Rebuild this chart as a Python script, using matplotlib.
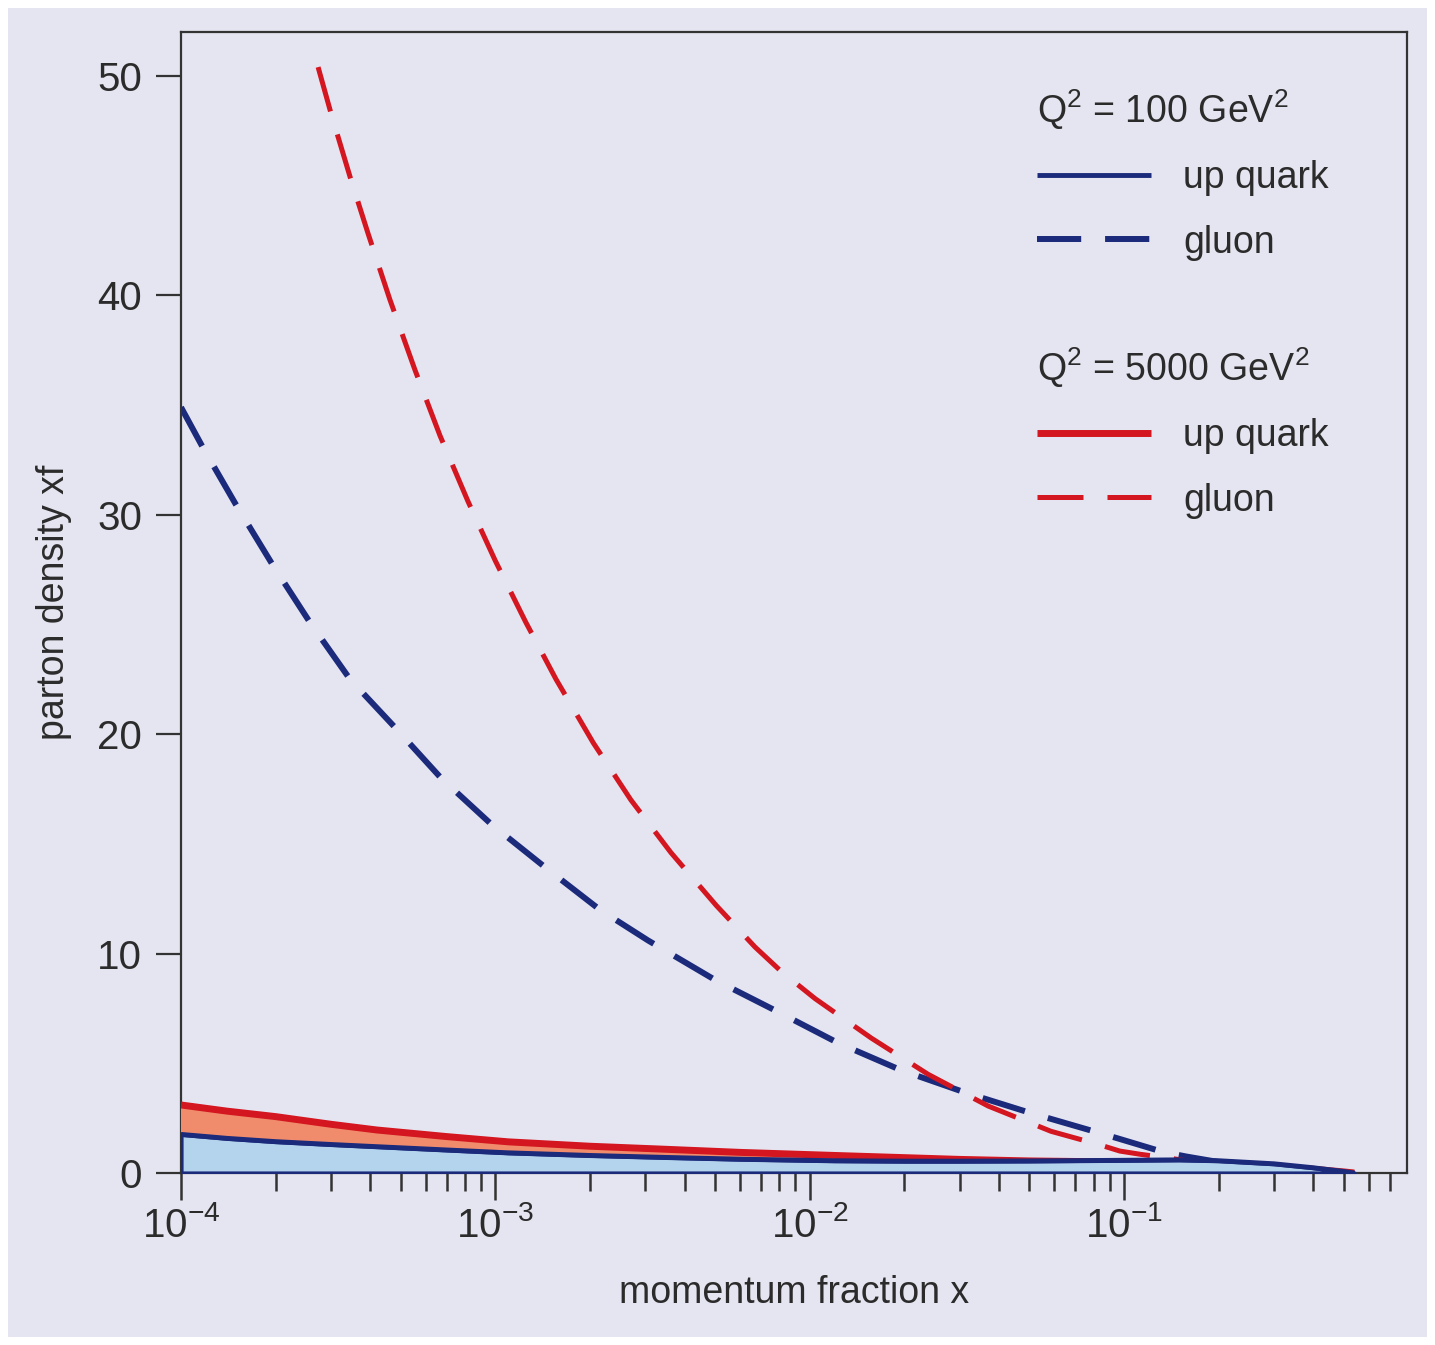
import matplotlib
matplotlib.use('Agg')
import matplotlib.pyplot as plt
from matplotlib.patches import Rectangle
from matplotlib.ticker import LogLocator, NullFormatter

# values (x = momentum fraction, y = parton density xf)
x_gluon_100 = [1e-4, 1.17e-4, 1.49e-4, 1.96e-4, 2.57e-4, 3.45e-4, 4.8e-4, 6.72e-4, 9.7e-4,
               1.45e-3, 2.15e-3, 3.06e-3, 5e-3, 7.94e-3, 1.23e-2, 1.95e-2, 3.15e-2, 5.06e-2,
               8.15e-2, 0.097, 0.133, 0.158, 0.2, 0.3, 0.4, 0.54]
gluon_100 = [34.9, 33.1, 30.5, 27.7, 25.1, 22.5, 20.3, 18.0, 15.9,
             13.9, 12.0, 10.6, 8.8, 7.34, 5.93, 4.69, 3.65, 2.73,
             1.87, 1.55, 0.96, 0.75, 0.5, 0.2, 0.08, 0.0]

x_gluon_5000 = [2.73e-4, 3.0e-4, 3.45e-4, 3.94e-4, 4.62e-4, 5.55e-4, 6.67e-4, 8.19e-4, 1.0e-3,
                1.25e-3, 1.56e-3, 2.05e-3, 2.7e-3, 3.62e-3, 5.04e-3, 6.7e-3, 8.1e-3, 1.04e-2,
                1.57e-2, 2.38e-2, 3.7e-2, 5.86e-2, 0.083, 0.097, 0.113, 0.131, 0.17, 0.3, 0.54]
gluon_5000 = [50.4, 48.3, 45.4, 42.8, 39.8, 36.6, 33.6, 30.6, 27.9,
              25.1, 22.5, 19.6, 17.0, 14.6, 12.2, 10.3, 9.2, 7.95,
              6.15, 4.5, 3.05, 1.9, 1.3, 1.0, 0.85, 0.73, 0.5, 0.15, 0.0]

x_up = [1e-4, 1.4e-4, 2e-4, 3e-4, 4.2e-4, 7e-4, 1.1e-3, 2e-3, 3.5e-3, 6e-3, 1.2e-2, 2e-2,
        3e-2, 5e-2, 0.1, 0.15, 0.2, 0.3, 0.4, 0.5, 0.54]
up_100 = [1.76, 1.58, 1.43, 1.3, 1.2, 1.05, 0.92, 0.8, 0.71, 0.63, 0.56, 0.54,
          0.54, 0.55, 0.58, 0.6, 0.56, 0.42, 0.24, 0.07, 0.0]
up_5000 = [3.1, 2.82, 2.57, 2.22, 1.96, 1.66, 1.42, 1.22, 1.08, 0.94, 0.8, 0.7,
           0.62, 0.55, 0.5, 0.48, 0.42, 0.3, 0.17, 0.05, 0.0]

navy = '#1b2a7b'
red = '#d3161f'
light_blue = '#b3d4ec'
salmon = '#f08c6c'
bg = '#e5e5f1'
ink = '#2b2b2b'

plt.rcParams['font.family'] = ['Liberation Sans', 'DejaVu Sans']
plt.rcParams['mathtext.fontset'] = 'custom'
plt.rcParams['mathtext.rm'] = 'Liberation Sans'
plt.rcParams['mathtext.it'] = 'Liberation Sans'
plt.rcParams['mathtext.sf'] = 'Liberation Sans'

fig = plt.figure(figsize=(14.35, 13.45), dpi=100)
fig.patch.set_facecolor('white')
fig.patches.append(Rectangle((8 / 1435, 8 / 1345), 1 - 16 / 1435, 1 - 16 / 1345,
                             transform=fig.transFigure, facecolor=bg, edgecolor='none', zorder=-5))

ax = fig.add_axes([181 / 1435, 1 - 1173 / 1345, (1407 - 181) / 1435, (1173 - 32) / 1345])
ax.set_facecolor(bg)

# gluons underneath the filled quark areas
l_g100, = ax.plot(x_gluon_100, gluon_100, color=navy, lw=4.3, dashes=(7.4, 4.0), zorder=2)
l_g5000, = ax.plot(x_gluon_5000, gluon_5000, color=red, lw=3.6, dashes=(9.2, 4.8), zorder=2)

ax.fill_between(x_up, 0, up_5000, facecolor=salmon, edgecolor='none', zorder=3)
l_up5000, = ax.plot(x_up, up_5000, color=red, lw=5, zorder=4, solid_capstyle='butt')
ax.fill_between(x_up, 0, up_100, facecolor=light_blue, edgecolor=navy, linewidth=3, zorder=5)
l_up100, = ax.plot(x_up, up_100, color=navy, lw=3.5, zorder=6, solid_capstyle='butt')

ax.set_xscale('log')
ax.set_xlim(1e-4, 0.795)
ax.set_ylim(0, 52)
ax.set_yticks([0, 10, 20, 30, 40, 50])
ax.xaxis.set_major_locator(LogLocator(base=10, numticks=10))
ax.xaxis.set_minor_locator(LogLocator(base=10, subs=range(2, 10), numticks=20))
ax.xaxis.set_minor_formatter(NullFormatter())

for s in ax.spines.values():
    s.set_color('#333333')
    s.set_linewidth(1.6)

ax.tick_params(axis='x', which='major', length=19.5, width=1.8, color='#333333',
               labelsize=29, labelcolor=ink, pad=4)
ax.tick_params(axis='x', which='minor', length=13, width=1.8, color='#333333')
ax.tick_params(axis='y', which='major', length=18, width=1.6, color='#333333',
               labelsize=29, labelcolor=ink, pad=10)

ax.set_xlabel('momentum fraction x', fontsize=27, color=ink, labelpad=22)
ax.set_ylabel('parton density xf', fontsize=27, color=ink, labelpad=18)

leg_kw = dict(loc='upper left', frameon=False, alignment='left', handlelength=3.05,
              handletextpad=0.85, labelspacing=0.76, borderpad=0, borderaxespad=0,
              fontsize=27, title_fontsize=27, bbox_transform=fig.transFigure)
leg1 = ax.legend([l_up100, l_g100], ['up quark', 'gluon'], title='Q$^2$ = 100 GeV$^2$',
                 bbox_to_anchor=(1037 / 1435, 1 - 87 / 1345), **leg_kw)
ax.add_artist(leg1)
leg2 = ax.legend([l_up5000, l_g5000], ['up quark', 'gluon'], title='Q$^2$ = 5000 GeV$^2$',
                 bbox_to_anchor=(1037 / 1435, 1 - 345 / 1345), **leg_kw)
for leg in (leg1, leg2):
    leg.get_title().set_color(ink)
    for t in leg.get_texts():
        t.set_color(ink)

plt.savefig('out.png', dpi=100, facecolor=fig.get_facecolor())
